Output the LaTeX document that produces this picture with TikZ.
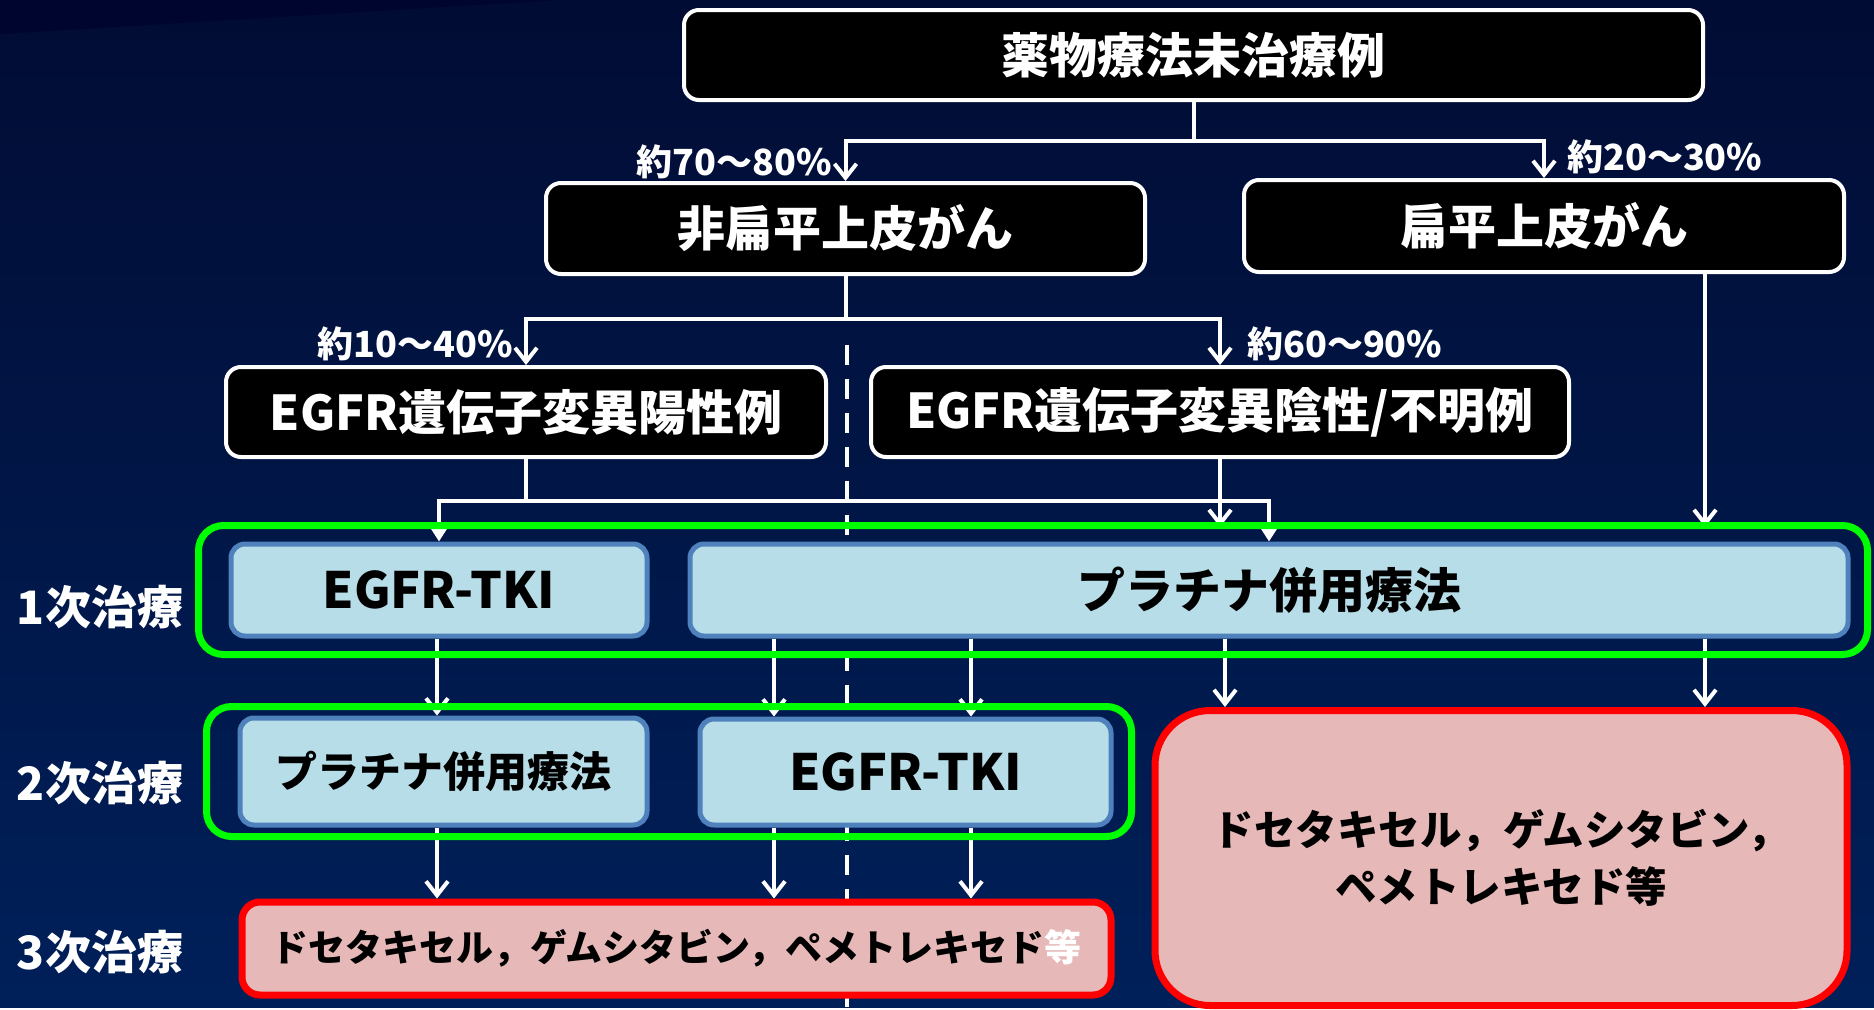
\documentclass[tikz,border=0pt]{standalone}
\usepackage{fontspec}
\setmainfont{Noto Sans CJK JP}
\usetikzlibrary{arrows.meta}
\definecolor{bgtop}{RGB}{1,12,52}
\definecolor{bgbot}{RGB}{0,32,90}
\definecolor{bgdark}{RGB}{0,5,48}
\definecolor{boxblue}{RGB}{183,222,232}
\definecolor{edgeblue}{RGB}{79,129,189}
\definecolor{boxred}{RGB}{230,185,184}
\definecolor{edgegreen}{RGB}{0,255,0}
\tikzset{
  blackbox/.style={draw=white, line width=4pt, fill=black, rounded corners=15pt,
    text=white, inner sep=0pt, font=\bfseries\fontsize{48}{56}\selectfont},
  bluebox/.style={draw=edgeblue, line width=5pt, fill=boxblue, rounded corners=14pt,
    text=black, inner sep=0pt, font=\bfseries\fontsize{50}{58}\selectfont},
  redbox/.style={draw=red, line width=7pt, fill=boxred, rounded corners=18pt,
    text=black, inner sep=0pt},
  greenframe/.style={draw=edgegreen, line width=7pt, rounded corners=25pt},
  pct/.style={text=white, inner sep=0pt, font=\bfseries\fontsize{36}{40}\selectfont},
  rowlab/.style={text=white, inner sep=0pt, font=\bfseries\fontsize{46}{52}\selectfont},
  wline/.style={draw=white, line width=4pt},
  arr/.style={wline, -{Straight Barb[length=14pt,width=22pt]}},
  tarr/.style={wline, -{Triangle[length=15pt,width=18pt]}}
}
\begin{document}
\begin{tikzpicture}[x=1pt,y=-1pt]
  % Background
  \fill[top color=bgtop, bottom color=bgbot] (0,0) rectangle (1874,1007);
  \fill[bgdark] (0,0) -- (560,0) -- (0,34) -- cycle;
  % Divider
  \coordinate (dtop) at (847,345);
  \coordinate (dbot) at (847,1007);
  \draw[white, line width=4.5pt, dash pattern=on 20pt off 14pt] (dtop) -- (dbot);
  % Patient groups
  \node[blackbox, minimum width=1019pt, minimum height=90pt] (root) at (1193.5,55) {薬物療法未治療例};
  \node[blackbox, minimum width=599pt, minimum height=91pt] (nonsq) at (845.5,228.5) {非扁平上皮がん};
  \node[blackbox, minimum width=600pt, minimum height=92pt] (sq) at (1544,226) {扁平上皮がん};
  \node[blackbox, minimum width=600pt, minimum height=90pt] (pos) at (526,412) {EGFR遺伝子変異陽性例};
  \node[blackbox, minimum width=698pt, minimum height=90pt] (neg) at (1220,412) {EGFR遺伝子変異陰性/不明例};
  % Treatments
  \node[bluebox, minimum width=416pt, minimum height=92pt] (tki1) at (439,590) {EGFR-TKI};
  \node[bluebox, minimum width=1158pt, minimum height=92pt, font=\bfseries\fontsize{48}{56}\selectfont] (plat1) at (1269,590) {プラチナ併用療法};
  \node[bluebox, minimum width=407pt, minimum height=107pt, font=\bfseries\fontsize{42}{50}\selectfont] (plat2) at (443.5,771.5) {プラチナ併用療法};
  \node[bluebox, minimum width=411pt, minimum height=106pt] (tki2) at (905.5,772) {EGFR-TKI};
  \node[redbox, minimum width=869pt, minimum height=93pt, font=\bfseries\fontsize{37}{44}\selectfont] (third) at (676.5,948.5) {ドセタキセル，ゲムシタビン，ペメトレキセド{\color{white}等}};
  \node[redbox, minimum width=692pt, minimum height=295pt, rounded corners=55pt, align=center, font=\bfseries\fontsize{41.5}{57}\selectfont] (later) at (1501,858) {ドセタキセル，ゲムシタビン，\\ペメトレキセド等};
  % Row labels
  \node[rowlab] (row1) at (100,607) {1次治療};
  \node[rowlab] (row2) at (100,783) {2次治療};
  \node[rowlab] (row3) at (100,952) {3次治療};
  % Shares
  \node[pct, anchor=east] (p70) at (832,162) {約70〜80\%};
  \node[pct, anchor=west] (p20) at (1567,157) {約20〜30\%};
  \node[pct, anchor=east] (p10) at (513,344) {約10〜40\%};
  \node[pct, anchor=west] (p60) at (1247,344) {約60〜90\%};
  % Branches
  \coordinate (j1) at (1193.5,141);
  \coordinate (j2) at (845.5,319);
  \coordinate (j3) at (526,501);
  \draw[wline] (root.south) -- (j1);
  \draw[arr] (j1) -| (nonsq.north);
  \draw[arr] (j1) -| (sq.north);
  \draw[wline] (nonsq.south) -- (j2);
  \draw[arr] (j2) -| (pos.north);
  \draw[arr] (j2) -| (neg.north);
  \draw[wline] (pos.south) -- (j3);
  \draw[tarr] (j3) -| (tki1.north);
  \draw[tarr] (j3) -| (plat1.north);
  % Columns
  \coordinate (g1top) at (0,527);
  \coordinate (c1) at (437,0);
  \coordinate (c2) at (774,0);
  \coordinate (c3) at (971,0);
  \coordinate (c4) at (1225,0);
  \coordinate (c5) at (1705,0);
  \draw[arr] (neg.south) -- (neg.south |- g1top);
  \draw[arr] (sq.south -| c5) -- (c5 |- g1top);
  \draw[arr] (tki1.south -| c1) -- (plat2.north -| c1);
  \draw[arr] (plat1.south -| c2) -- (tki2.north -| c2);
  \draw[arr] (plat1.south -| c3) -- (tki2.north -| c3);
  \draw[arr] (plat1.south -| c4) -- (later.north -| c4);
  \draw[arr] (plat1.south -| c5) -- (later.north -| c5);
  \draw[arr] (plat2.south -| c1) -- (third.north -| c1);
  \draw[arr] (tki2.south -| c2) -- (third.north -| c2);
  \draw[arr] (tki2.south -| c3) -- (third.north -| c3);
  % Lines of treatment
  \draw[greenframe] (198.5,525.5) rectangle (1867.5,654.5);
  \draw[greenframe] (206.5,706.5) rectangle (1131.5,836.5);
\end{tikzpicture}
\end{document}
